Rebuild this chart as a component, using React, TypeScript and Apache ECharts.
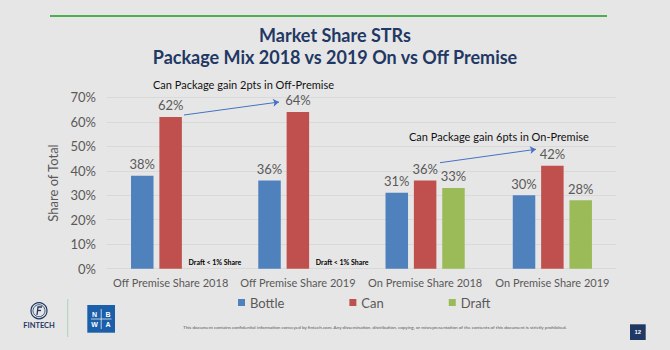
import React, { useEffect, useRef } from "react";
import * as echarts from "echarts";

const categories = [
  "Off Premise Share 2018",
  "Off Premise Share 2019",
  "On Premise Share 2018",
  "On Premise Share 2019",
];
const bottleValues = [38, 36, 31, 30];
const canValues = [62, 64, 36, 42];
const draftValues = [0, 0, 33, 28];
const draftNote = "Draft < 1% Share";
const yTicks = { min: 0, max: 70, interval: 10 };
const titleLines = ["Market Share STRs", "Package Mix 2018 vs 2019 On vs Off Premise"];
const noteOff = "Can Package gain 2pts in Off-Premise";
const noteOn = "Can Package gain 6pts in On-Premise";
const disclaimer =
  "This document contains confidential information conveyed by fintech.com. Any dissemination, distribution, copying, or misrepresentation of the contents of this document is strictly prohibited.";

const FONT = "Lato";
const GREY = "#595959";
const NAVY = "#1f3864";

export default function App() {
  const ref = useRef<HTMLDivElement>(null);
  useEffect(() => {
    document.body.style.margin = "0";
    const chart = echarts.init(ref.current!, null, { renderer: "svg" });
    const labelCommon = {
      show: true,
      position: "top",
      distance: 5,
      formatter: "{c}%",
      color: GREY,
      fontSize: 13,
      fontFamily: FONT,
    };
    const draftData = draftValues.map((v, i) =>
      i < 2
        ? {
            value: v,
            label: {
              show: true,
              formatter: draftNote,
              fontSize: 7,
              fontWeight: "bold",
              color: "#000",
              offset: [16, 2],
            },
          }
        : v
    );
    chart.setOption({
      animation: false,
      backgroundColor: "#e7e6e6",
      textStyle: { fontFamily: FONT },
      grid: { left: 107, right: 54, top: 97.3, bottom: 81.3, containLabel: false },
      legend: {
        left: 233,
        top: 291,
        itemWidth: 7,
        itemHeight: 7,
        itemGap: 65,
        icon: "rect",
        textStyle: { color: GREY, fontSize: 13, fontFamily: FONT },
        data: ["Bottle", "Can", "Draft"],
      },
      xAxis: {
        type: "category",
        data: categories,
        axisTick: { show: false },
        axisLine: { lineStyle: { color: "#d9d9d9" } },
        axisLabel: { color: GREY, fontSize: 11, margin: 8, interval: 0, fontFamily: FONT },
      },
      yAxis: {
        type: "value",
        min: yTicks.min,
        max: yTicks.max,
        interval: yTicks.interval,
        name: "Share of Total",
        nameLocation: "middle",
        nameGap: 38,
        nameTextStyle: { color: GREY, fontSize: 13, fontFamily: FONT },
        axisLabel: { formatter: "{value}%", color: GREY, fontSize: 13, margin: 11, fontFamily: FONT },
        axisLine: { show: false },
        axisTick: { show: false },
        splitLine: { lineStyle: { color: "#d9d9d9" } },
      },
      series: [
        {
          name: "Bottle",
          type: "bar",
          data: bottleValues,
          barWidth: 22.5,
          barGap: "26%",
          itemStyle: { color: "#4f81bd" },
          label: labelCommon,
        },
        {
          name: "Can",
          type: "bar",
          data: canValues,
          barWidth: 22.5,
          barGap: "26%",
          itemStyle: { color: "#c0504d" },
          label: labelCommon,
          markLine: {
            silent: true,
            symbol: ["none", "arrow"],
            symbolSize: 6,
            label: { show: false },
            lineStyle: { color: "#4472c4", width: 1, type: "solid" },
            data: [
              [{ x: 184, y: 115 }, { x: 279, y: 102 }],
              [{ x: 440, y: 162.7 }, { x: 536, y: 149.3 }],
            ],
          },
        },
        {
          name: "Draft",
          type: "bar",
          data: draftData,
          barWidth: 22.5,
          barGap: "26%",
          itemStyle: { color: "#9bbb59" },
          label: labelCommon,
        },
      ],
      graphic: [
        { type: "line", shape: { x1: 50, y1: 16, x2: 607, y2: 16 }, style: { stroke: "#4cae4f", lineWidth: 2 } },
        { type: "text", x: 335, y: 35, style: { text: titleLines[0], fontSize: 18, fontWeight: "bold", fontFamily: FONT, fill: NAVY, align: "center", verticalAlign: "middle" } },
        { type: "text", x: 335, y: 56.7, style: { text: titleLines[1], fontSize: 18, fontWeight: "bold", fontFamily: FONT, fill: NAVY, align: "center", verticalAlign: "middle" } },
        { type: "text", x: 153, y: 84, style: { text: noteOff, fontSize: 11, fontFamily: FONT, fill: "#111", verticalAlign: "middle" } },
        { type: "text", x: 409, y: 136, style: { text: noteOn, fontSize: 11, fontFamily: FONT, fill: "#111", verticalAlign: "middle" } },
        // footer: Fintech logo
        { type: "circle", shape: { cx: 39, cy: 310.7, r: 8 }, style: { fill: "none", stroke: NAVY, lineWidth: 1.2 } },
        { type: "circle", shape: { cx: 39, cy: 310.7, r: 6 }, style: { fill: "none", stroke: NAVY, lineWidth: 0.8 } },
        { type: "polyline", shape: { points: [[37, 315], [38, 307], [42, 307]] }, style: { stroke: NAVY, lineWidth: 1.3, fill: "none" } },
        { type: "line", shape: { x1: 37.6, y1: 310.5, x2: 41, y2: 310.5 }, style: { stroke: NAVY, lineWidth: 1.3 } },
        { type: "text", x: 39, y: 325.7, style: { text: "FINTECH", fontSize: 7.5, fontWeight: "bold", fontFamily: FONT, fill: NAVY, align: "center", verticalAlign: "middle" } },
        { type: "line", shape: { x1: 67.7, y1: 299, x2: 67.7, y2: 337 }, style: { stroke: "#a9d5b0", lineWidth: 1 } },
        // NBWA
        { type: "rect", shape: { x: 87.3, y: 305, width: 27.7, height: 27.7 }, style: { fill: "#1b5ea9" } },
        { type: "line", shape: { x1: 101.2, y1: 309, x2: 101.2, y2: 329 }, style: { stroke: "#fff", lineWidth: 0.7 } },
        { type: "line", shape: { x1: 91, y1: 319, x2: 111.5, y2: 319 }, style: { stroke: "#fff", lineWidth: 0.7 } },
        { type: "text", x: 94.5, y: 314, style: { text: "N", fontSize: 7, fontWeight: "bold", fill: "#fff", align: "center", verticalAlign: "middle" } },
        { type: "text", x: 108, y: 314, style: { text: "B", fontSize: 7, fontWeight: "bold", fill: "#fff", align: "center", verticalAlign: "middle" } },
        { type: "text", x: 94.5, y: 324.5, style: { text: "W", fontSize: 7, fontWeight: "bold", fill: "#fff", align: "center", verticalAlign: "middle" } },
        { type: "text", x: 108, y: 324.5, style: { text: "A", fontSize: 7, fontWeight: "bold", fill: "#fff", align: "center", verticalAlign: "middle" } },
        // disclaimer
        { type: "text", x: 183, y: 327, style: { text: disclaimer, fontSize: 4.6, fontFamily: FONT, fill: "#555", verticalAlign: "middle" } },
        // page number
        { type: "rect", shape: { x: 630, y: 324.3, width: 15.7, height: 15.7 }, style: { fill: NAVY } },
        { type: "text", x: 637.8, y: 332.2, style: { text: "12", fontSize: 6, fontWeight: "bold", fill: "#fff", align: "center", verticalAlign: "middle" } },
      ],
    });
    return () => chart.dispose();
  }, []);
  return <div ref={ref} style={{ width: 670, height: 350 }} />;
}
